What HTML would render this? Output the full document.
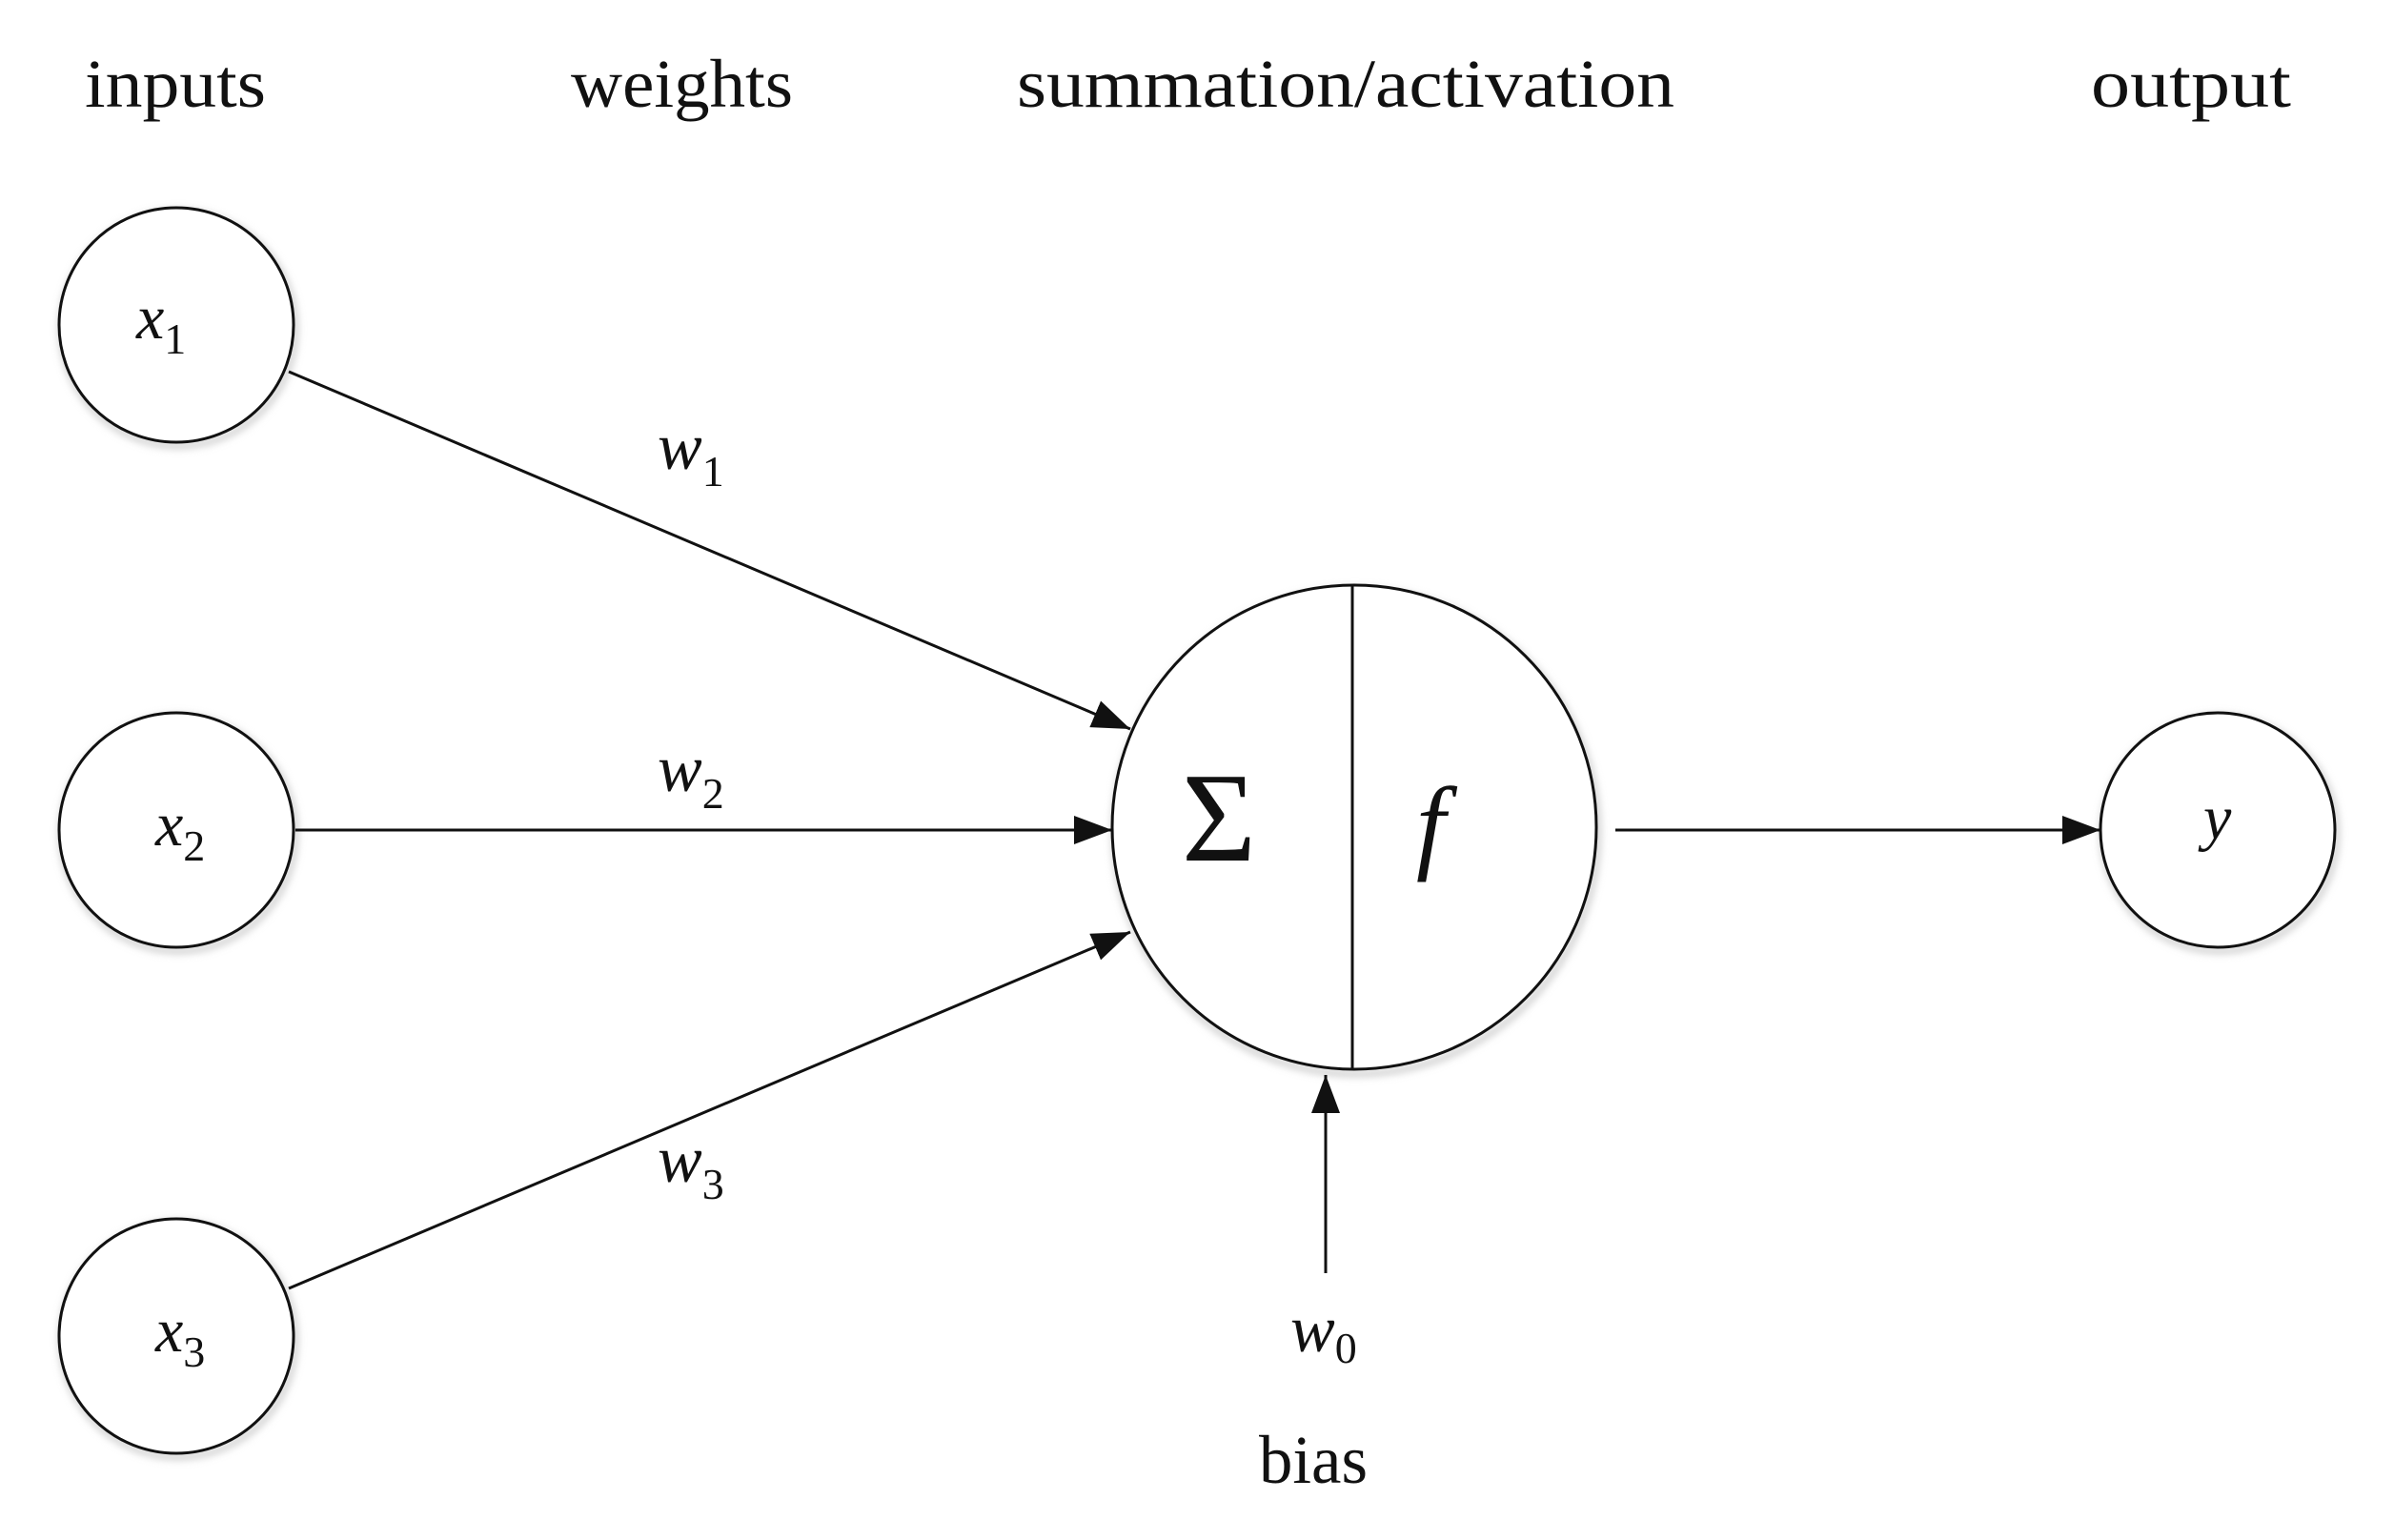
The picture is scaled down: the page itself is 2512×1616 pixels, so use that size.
<!DOCTYPE html>
<html><head><meta charset="utf-8"><style>
html,body{margin:0;padding:0;background:#fff;}
svg{display:block;}
text{font-family:"Liberation Serif",serif;fill:#111;}
</style></head><body>
<svg width="2512" height="1616" viewBox="0 0 2512 1616">
<defs>
<marker id="ah" markerWidth="40" markerHeight="30" refX="40" refY="15" orient="auto" markerUnits="userSpaceOnUse" viewBox="0 0 40 30">
<path d="M0,0 L40,15 L0,30 z" fill="#111"/>
</marker>
<filter id="sh" x="-20%" y="-20%" width="140%" height="140%"><feGaussianBlur stdDeviation="4"/></filter>
</defs>
<g>
<text x="89" y="112" font-size="72" textLength="190" lengthAdjust="spacingAndGlyphs">inputs</text>
<text x="599" y="112" font-size="72" textLength="233" lengthAdjust="spacingAndGlyphs">weights</text>
<text x="1067" y="112" font-size="72" textLength="690" lengthAdjust="spacingAndGlyphs">summation/activation</text>
<text x="2194" y="112" font-size="72" textLength="210" lengthAdjust="spacingAndGlyphs">output</text>
</g>
<g stroke="#ccc" fill="none" stroke-width="6" filter="url(#sh)">
<circle cx="187" cy="345" r="123"/><circle cx="187" cy="875" r="123"/><circle cx="187" cy="1406" r="123"/>
<circle cx="1423" cy="873" r="254"/><circle cx="2329" cy="875" r="123"/>
</g>
<g fill="#fff" stroke="#111" stroke-width="3">
<circle cx="185" cy="341" r="123"/>
<circle cx="185" cy="871" r="123"/>
<circle cx="185" cy="1402" r="123"/>
<circle cx="1421" cy="868" r="254"/>
<circle cx="2327" cy="871" r="123"/>
</g>
<line x1="1419" y1="615" x2="1419" y2="1122" stroke="#111" stroke-width="3"/>
<g stroke="#111" stroke-width="3" marker-end="url(#ah)">
<line x1="303" y1="390" x2="1186" y2="765"/>
<line x1="310" y1="871" x2="1167" y2="871"/>
<line x1="303" y1="1352" x2="1186" y2="978"/>
<line x1="1695" y1="871" x2="2204" y2="871"/>
<line x1="1391" y1="1336" x2="1391" y2="1128"/>
</g>
<g font-style="italic">
<text x="143" y="355" font-size="66">x<tspan font-style="normal" font-size="46" dy="16">1</tspan></text>
<text x="163" y="887" font-size="66">x<tspan font-style="normal" font-size="46" dy="16">2</tspan></text>
<text x="163" y="1418" font-size="66">x<tspan font-style="normal" font-size="46" dy="16">3</tspan></text>
<text x="2312" y="880" font-size="66">y</text>
<text x="690" y="492" font-size="70">w<tspan font-style="normal" font-size="46" dy="18">1</tspan></text>
<text x="690" y="830" font-size="70">w<tspan font-style="normal" font-size="46" dy="18">2</tspan></text>
<text x="690" y="1240" font-size="70">w<tspan font-style="normal" font-size="46" dy="18">3</tspan></text>
<text x="1354" y="1418" font-size="70">w<tspan font-style="normal" font-size="46" dy="12">0</tspan></text>
<text x="1486" y="902" font-size="110">f</text>
</g>
<text x="1240" y="903" font-size="134">Σ</text>
<text x="1321" y="1556" font-size="72" textLength="114" lengthAdjust="spacingAndGlyphs">bias</text>
</svg>
</body></html>
